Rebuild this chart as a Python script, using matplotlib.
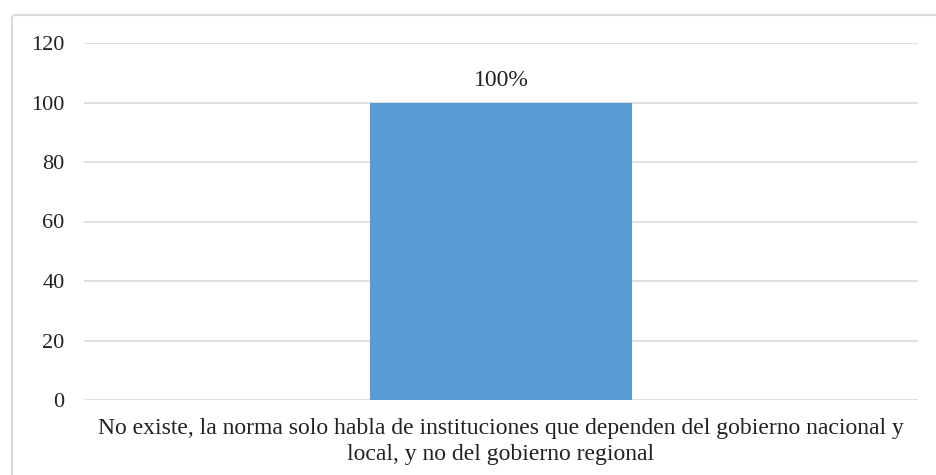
import matplotlib
matplotlib.use("Agg")
import matplotlib.pyplot as plt
from matplotlib.patches import FancyBboxPatch

categories = ["No existe, la norma solo habla de instituciones que dependen del gobierno nacional y\nlocal, y no del gobierno regional"]
values = [100]
labels = ["100%"]
yticks = [0, 20, 40, 60, 80, 100, 120]

plt.rcParams['font.family'] = ['Liberation Serif', 'DejaVu Serif']

fig = plt.figure(figsize=(9.36, 4.75), dpi=100)
ax = fig.add_axes([84/936, 1-400/475, (918-84)/936, (400-43)/475])

# figure border
border = FancyBboxPatch((12/936, -0.05), 1.2, 1.05 - 15/475, boxstyle="round,pad=0,rounding_size=0.005",
                        transform=fig.transFigure, fill=False, edgecolor='#d9d9d9', linewidth=1.5)
fig.patches.append(border)

x = list(range(len(categories)))
bars = ax.bar(x, values, width=0.313, color='#5B9BD5', zorder=3)
for b, lab in zip(bars, labels):
    ax.text(b.get_x() + b.get_width()/2, b.get_height() + 4, lab, ha='center', va='bottom', fontsize=17, color='#222222')

ax.set_xlim(-0.5, 0.5)
ax.set_ylim(0, 120)
ax.set_yticks(yticks)
ax.set_xticks(x)
ax.set_xticklabels(categories, fontsize=17, color='#222222', linespacing=1.3)
ax.tick_params(axis='y', labelsize=16, colors='#222222', length=0, pad=14)
ax.tick_params(axis='x', length=0, pad=13)
ax.grid(axis='y', color='#d9d9d9', linewidth=1.2, zorder=0)
for s in ax.spines.values():
    s.set_visible(False)

fig.savefig('out.png', dpi=100)
